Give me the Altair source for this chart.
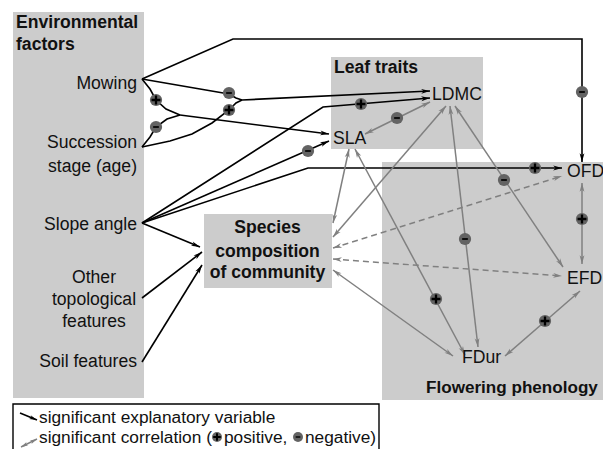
import math
import altair as alt
import pandas as pd

# ---------------- chart frame ----------------
W, H = 595, 441          # plot area; data coordinates are page pixels
ORIGIN = 8               # page margin

# ---------------- grey group boxes ----------------
BOX_X0 = [13, 331, 382, 204]
BOX_X1 = [144, 483, 615, 332]
BOX_Y0 = [12, 57, 162, 214]
BOX_Y1 = [398, 149, 400, 288]

LEGEND_X0, LEGEND_X1 = [13], [379]
LEGEND_Y0, LEGEND_Y1 = [404], [470]

# ---------------- black paths: significant explanatory variables ----------------
MOW_OFD = [(142, 79), (233, 39), (582, 39), (582, 162)]
MOW_LDMC = [(142, 79), (200, 89), (229, 94), (236, 98), (242, 100)]
SUC_LDMC = [(142, 147), (170, 141), (192, 134), (212, 123), (229, 110), (236, 103), (242, 100)]
INT_LDMC = [(242, 100), (430, 91)]
MOW_SLA = [(142, 79), (150, 89), (156, 100), (166, 109), (180, 115)]
SUC_SLA = [(142, 147), (150, 137), (156, 127), (167, 119), (180, 115)]
INT_SLA = [(180, 115), (329, 134)]
SLO_LDMC = [(142, 223), (323, 107), (430, 98)]
SLO_SLA = [(142, 223), (329, 141)]
SLO_OFD = [(142, 223), (308, 168), (562, 168)]
SLO_SPC = [(142, 223), (200, 247)]
OTH_SPC = [(142, 298), (202, 252)]
SOI_SPC = [(142, 362), (202, 265)]

# ---------------- grey paths: significant correlations ----------------
SLA_LDMC = [(365, 134), (430, 102)]
LDMC_SPC = [(446, 106), (333, 237)]
SLA_SPC = [(349, 149), (333, 223)]
SLA_FDUR = [(355, 149), (465, 355)]
LDMC_FDUR = [(450, 106), (478, 347)]
LDMC_EFD = [(455, 106), (563, 267)]
SPC_FDUR = [(333, 270), (453, 356)]
OFD_EFD = [(582, 183), (582, 264)]
EFD_FDUR = [(580, 291), (505, 356)]
# dashed correlations
SPC_OFD = [(333, 248), (562, 176)]
SPC_EFD = [(333, 259), (562, 276)]

# ---------------- sign markers ----------------
PLUS_X = [156, 229, 361, 535, 436, 582, 545]
PLUS_Y = [100, 110, 104, 168, 299, 219, 321]
MINUS_X = [582, 229, 156, 308, 397, 465, 504]
MINUS_Y = [92, 93, 127, 151, 118, 239, 180]

# ---------------- labels ----------------
BOLD_LEFT_TEXT = ["Environmental", "factors", "Leaf traits"]
BOLD_LEFT_X = [16, 16, 334]
BOLD_LEFT_Y = [28, 50, 73]

PHENO_TEXT, PHENO_X, PHENO_Y = ["Flowering phenology"], [426], [393]

BOLD_CENTER_TEXT = ["Species", "composition", "of community"]
BOLD_CENTER_X = [267.5, 267.5, 267.5]
BOLD_CENTER_Y = [233, 257, 278]

RIGHT_TEXT = ["Mowing", "Succession", "stage (age)", "Slope angle", "Soil features"]
RIGHT_X = [137, 137, 137, 137, 137]
RIGHT_Y = [89, 148, 172, 230, 367]

CENTER_TEXT = ["Other", "topological", "features"]
CENTER_X = [94, 94, 94]
CENTER_Y = [283, 305, 327]

LEFT_TEXT = ["LDMC", "SLA", "OFD", "EFD", "FDur"]
LEFT_X = [432, 333, 567, 567, 462]
LEFT_Y = [100, 144, 177, 284, 363]

# ---------------- legend ----------------
LEG_TEXT = ["significant explanatory variable", "significant correlation (", "positive,", "negative)"]
LEG_X = [39, 39, 224, 305]
LEG_Y = [423, 443, 443, 443]
LEG_BLACK = [(20, 413), (37, 420)]
LEG_GREY = [(21, 447), (37, 439)]
LEG_PLUS_X, LEG_PLUS_Y = [217], [437]
LEG_MINUS_X, LEG_MINUS_Y = [298], [437]

# ---------------- styles ----------------
FONT = "Liberation Sans"
GREY_BOX = "#cccccc"
GREY_LINE = "#808080"
SIGN_FILL = "#636363"
TEXT_COL = "#111111"
ARROW = "M0,0L0.6,2.2L0,1.6L-0.6,2.2Z"
PLUS = "M-0.22,-0.85H0.22V-0.22H0.85V0.22H0.22V0.85H-0.22V0.22H-0.85V-0.22H-0.22Z"
MINUS = "M-0.6,-0.18H0.6V0.18H-0.6Z"

BLACK_PATHS = {"MOW_OFD": MOW_OFD, "MOW_LDMC": MOW_LDMC, "SUC_LDMC": SUC_LDMC,
               "INT_LDMC": INT_LDMC, "MOW_SLA": MOW_SLA, "SUC_SLA": SUC_SLA,
               "INT_SLA": INT_SLA, "SLO_LDMC": SLO_LDMC, "SLO_SLA": SLO_SLA,
               "SLO_OFD": SLO_OFD, "SLO_SPC": SLO_SPC, "OTH_SPC": OTH_SPC,
               "SOI_SPC": SOI_SPC, "LEG_BLACK": LEG_BLACK}
BLACK_ARROWED = ["MOW_OFD", "INT_LDMC", "INT_SLA", "SLO_LDMC", "SLO_SLA", "SLO_OFD",
                 "SLO_SPC", "OTH_SPC", "SOI_SPC", "LEG_BLACK"]
GREY_PATHS = {"SLA_LDMC": SLA_LDMC, "LDMC_SPC": LDMC_SPC, "SLA_SPC": SLA_SPC,
              "SLA_FDUR": SLA_FDUR, "LDMC_FDUR": LDMC_FDUR, "LDMC_EFD": LDMC_EFD,
              "SPC_FDUR": SPC_FDUR, "OFD_EFD": OFD_EFD, "EFD_FDUR": EFD_FDUR,
              "LEG_GREY": LEG_GREY}
DASH_PATHS = {"SPC_OFD": SPC_OFD, "SPC_EFD": SPC_EFD}


def path_frame(paths):
    rows = []
    for pid, pts in paths.items():
        for k, (x, y) in enumerate(pts):
            rows.append({"pid": pid, "k": k, "x": x, "y": y})
    return pd.DataFrame(rows)


def heading(a, b):
    dx, dy = b[0] - a[0], b[1] - a[1]
    return math.degrees(math.atan2(dx, -dy)) % 360


arrow_rows = []
for pid in BLACK_ARROWED:
    pts = BLACK_PATHS[pid]
    arrow_rows.append({"x": pts[-1][0], "y": pts[-1][1], "ang": heading(pts[-2], pts[-1]),
                       "col": "black", "sz": 49 if pid.startswith("LEG") else 64})
for group in (GREY_PATHS, DASH_PATHS):
    for pid, pts in group.items():
        sz = 42 if pid.startswith("LEG") else 64
        arrow_rows.append({"x": pts[-1][0], "y": pts[-1][1], "ang": heading(pts[-2], pts[-1]),
                           "col": GREY_LINE, "sz": sz})
        arrow_rows.append({"x": pts[0][0], "y": pts[0][1], "ang": heading(pts[1], pts[0]),
                           "col": GREY_LINE, "sz": sz})
arrows = pd.DataFrame(arrow_rows)

xs = alt.Scale(domain=[ORIGIN, ORIGIN + W], nice=False, zero=False)
ys = alt.Scale(domain=[ORIGIN, ORIGIN + H], nice=False, zero=False, reverse=True)


def X(f="x"):
    return alt.X(f"{f}:Q", scale=xs, axis=None)


def Y(f="y"):
    return alt.Y(f"{f}:Q", scale=ys, axis=None)


boxes = alt.Chart(pd.DataFrame({"x0": BOX_X0, "x1": BOX_X1, "y0": BOX_Y0, "y1": BOX_Y1})).mark_rect(
    color=GREY_BOX).encode(x=X("x0"), x2="x1:Q", y=Y("y0"), y2="y1:Q")

legend_box = alt.Chart(pd.DataFrame({"x0": LEGEND_X0, "x1": LEGEND_X1, "y0": LEGEND_Y0, "y1": LEGEND_Y1})).mark_rect(
    fill="white", stroke="black", strokeWidth=1.4).encode(x=X("x0"), x2="x1:Q", y=Y("y0"), y2="y1:Q")


def lines(paths, color, width, dash=None):
    kw = dict(color=color, strokeWidth=width)
    if dash:
        kw["strokeDash"] = dash
    return alt.Chart(path_frame(paths)).mark_line(**kw).encode(
        x=X(), y=Y(), detail="pid:N", order="k:Q")


black_lines = lines(BLACK_PATHS, "black", 1.6)
grey_lines = lines(GREY_PATHS, GREY_LINE, 1.5)
dash_lines = lines(DASH_PATHS, GREY_LINE, 1.5, [6, 4])

heads = alt.Chart(arrows).mark_point(shape=ARROW, filled=True, opacity=1, strokeWidth=0).encode(
    x=X(), y=Y(), angle=alt.Angle("ang:Q", scale=None),
    color=alt.Color("col:N", scale=None), size=alt.Size("sz:Q", scale=None))

circ_df = pd.DataFrame({"x": PLUS_X + MINUS_X, "y": PLUS_Y + MINUS_Y})
circles = alt.Chart(circ_df).mark_point(shape="circle", filled=True, opacity=1, size=150,
                                        color=SIGN_FILL, strokeWidth=0).encode(x=X(), y=Y())
plus = alt.Chart(pd.DataFrame({"x": PLUS_X, "y": PLUS_Y})).mark_point(
    shape=PLUS, filled=True, opacity=1, size=110, color="black", strokeWidth=0).encode(x=X(), y=Y())
minus = alt.Chart(pd.DataFrame({"x": MINUS_X, "y": MINUS_Y})).mark_point(
    shape=MINUS, filled=True, opacity=1, size=90, color="black", strokeWidth=0).encode(x=X(), y=Y())

leg_circ = alt.Chart(pd.DataFrame({"x": LEG_PLUS_X + LEG_MINUS_X, "y": LEG_PLUS_Y + LEG_MINUS_Y})).mark_point(
    shape="circle", filled=True, opacity=1, size=100, color=SIGN_FILL, strokeWidth=0).encode(x=X(), y=Y())
leg_plus = alt.Chart(pd.DataFrame({"x": LEG_PLUS_X, "y": LEG_PLUS_Y})).mark_point(
    shape=PLUS, filled=True, opacity=1, size=80, color="black", strokeWidth=0).encode(x=X(), y=Y())
leg_minus = alt.Chart(pd.DataFrame({"x": LEG_MINUS_X, "y": LEG_MINUS_Y})).mark_point(
    shape=MINUS, filled=True, opacity=1, size=60, color="black", strokeWidth=0).encode(x=X(), y=Y())


def texts(t, x, y, align, weight, size=17.6):
    return alt.Chart(pd.DataFrame({"t": t, "x": x, "y": y})).mark_text(
        align=align, baseline="alphabetic", font=FONT, fontSize=size, fontWeight=weight,
        color=TEXT_COL).encode(x=X(), y=Y(), text="t:N")


layers = [
    boxes, legend_box, black_lines, grey_lines, dash_lines, heads,
    circles, plus, minus, leg_circ, leg_plus, leg_minus,
    texts(BOLD_LEFT_TEXT, BOLD_LEFT_X, BOLD_LEFT_Y, "left", "bold"),
    texts(PHENO_TEXT, PHENO_X, PHENO_Y, "left", "bold", 17.1),
    texts(BOLD_CENTER_TEXT, BOLD_CENTER_X, BOLD_CENTER_Y, "center", "bold"),
    texts(RIGHT_TEXT, RIGHT_X, RIGHT_Y, "right", "normal"),
    texts(CENTER_TEXT, CENTER_X, CENTER_Y, "center", "normal"),
    texts(LEFT_TEXT, LEFT_X, LEFT_Y, "left", "normal"),
    texts(LEG_TEXT, LEG_X, LEG_Y, "left", "normal", 17.3),
]

chart = alt.layer(*layers).properties(
    width=W, height=H, padding=0, autosize=alt.AutoSizeParams(type="none")
).configure_view(stroke=None)

chart.save("out.html", embed_options={"renderer": "svg", "actions": False})
